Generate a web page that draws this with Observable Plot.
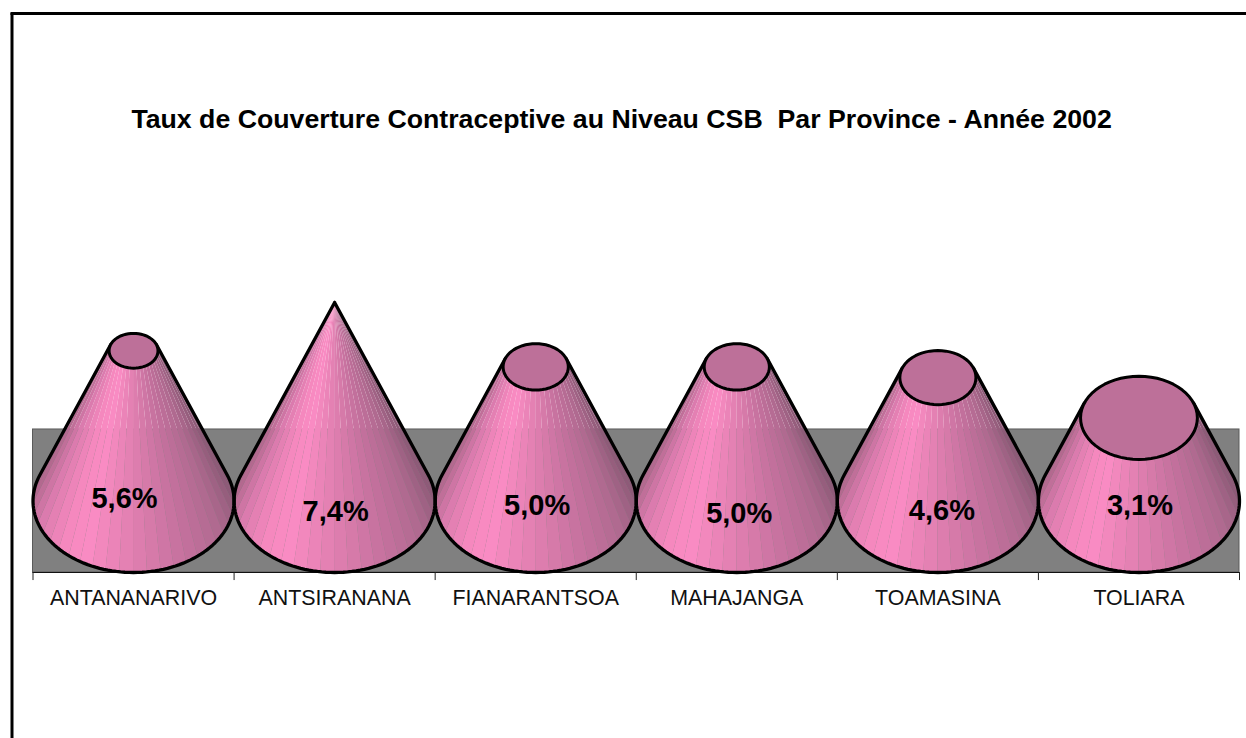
<!DOCTYPE html>
<html>
<head>
<meta charset="utf-8">
<script src="https://cdn.jsdelivr.net/npm/d3@7"></script>
<script src="https://cdn.jsdelivr.net/npm/@observablehq/plot@0.6"></script>
<style>html,body{margin:0;padding:0;background:#fff;overflow:hidden}svg{display:block;overflow:visible}</style>
</head>
<body>
<div id="chart"></div>
<script>
const provinces = ["ANTANANARIVO","ANTSIRANANA","FIANARANTSOA","MAHAJANGA","TOAMASINA","TOLIARA"];
const rates = [5.6,7.4,5.0,5.0,4.6,3.1];
const rateLabels = ["5,6%","7,4%","5,0%","5,0%","4,6%","3,1%"];
const labelX = [0.455,1.505,2.507,3.512,4.52,5.505];
const labelY = [0.093,-0.39,-0.168,-0.466,-0.354,-0.168];
const titleText = "Taux de Couverture Contraceptive au Niveau CSB \u00A0Par Province - Année 2002";

const FONT = "'Liberation Sans', Arial, sans-serif";
const vMax = 7.4, baseRy = 2.666, wallTop = 2.666, n = provinces.length;
const unitsPerPx = (vMax+baseRy)/270;
const frameBottom = -baseRy - 166*unitsPerPx, frameTop = vMax + 289*unitsPerPx, frameLeft = -21/201.08;
const shadeAngle = [-25,0,30,60,90,120,135,160,180,205];
const shadeColor = ["#85566f","#8e5a78","#b06a90","#c6729f","#e07fb0","#fb8cc4","#f488bd","#d87aac","#b4698f","#a8668a"];
const shade = d3.scaleLinear().domain(shadeAngle).range(shadeColor);

const toRad = Math.PI/180;
// silhouette tangent angle for a cone whose apex sits at vMax
const tangent = Math.asin(baseRy/vMax)/toRad;
const startDeg = -tangent, endDeg = 180+tangent, facetCount = 28;

function point(i, v, deg){
  const f = 1 - v/vMax;
  return {x: i+0.5 + 0.5*f*Math.cos(deg*toRad), y: v - baseRy*f*Math.sin(deg*toRad)};
}

const facets = [], outline = [], caps = [];
rates.forEach((v,i)=>{
  const step = (endDeg-startDeg)/facetCount;
  for(let k=0;k<facetCount;k++){
    const a=startDeg+k*step, b=a+step, col=shade((a+b)/2), id=i+"-"+k;
    for(const d of [a,b]){
      const lo=point(i,0,d), hi=point(i,v,d);
      facets.push({id,col,x1:lo.x,y1:lo.y,x2:hi.x,y2:hi.y});
    }
  }
  // outline: down the right side, round the base, up the left side
  outline.push({id:i,...point(i,v,startDeg)});
  for(let d=startDeg;d<=endDeg+1e-6;d+=(endDeg-startDeg)/90) outline.push({id:i,...point(i,0,d)});
  outline.push({id:i,...point(i,v,endDeg)});
  if(v<vMax) for(let d=0;d<=360;d+=6) caps.push({id:i,...point(i,v,d)});
});

const tickPos = d3.range(n+1);
const plot = Plot.plot({
  width:1246, height:738,
  marginLeft:11.5, marginTop:13, marginRight:0, marginBottom:166,
  style:{fontFamily:FONT, background:"#fff", overflow:"visible"},
  x:{domain:[0,n], range:[32.5,1239], axis:null},
  y:{domain:[-baseRy,vMax], range:[572,302], axis:null},
  color:{type:"identity"},
  marks:[
    Plot.frame({anchor:"top", stroke:"#000", strokeWidth:3}),
    Plot.ruleX([frameLeft],{y1:frameBottom,y2:frameTop,stroke:"#000",strokeWidth:3}),
    Plot.rect([0],{x1:()=>0,x2:()=>n,y1:()=>-baseRy,y2:()=>wallTop,fill:"#808080",stroke:"#5a5a5a",strokeWidth:1}),
    Plot.ruleY([-baseRy],{x1:0,x2:n,stroke:"#111",strokeWidth:1}),
    Plot.ruleX(tickPos,{y1:-baseRy,y2:-baseRy-0.3,stroke:"#222",strokeWidth:1}),
    Plot.area(facets,{x1:"x1",y1:"y1",x2:"x2",y2:"y2",z:"id",fill:"col"}),
    Plot.line(outline,{x:"x",y:"y",z:"id",stroke:"#000",strokeWidth:3.3,strokeLinejoin:"round"}),
    Plot.line(caps,{x:"x",y:"y",z:"id",fill:"#bd7099",stroke:"#000",strokeWidth:3}),
    Plot.text(rateLabels,{x:(d,i)=>labelX[i],y:(d,i)=>labelY[i],text:d=>d,fontSize:29,fontWeight:"bold",fill:"#000"}),
    Plot.axisX({ticks:provinces.map((d,i)=>i+0.5),tickFormat:x=>provinces[Math.floor(x)],tickSize:0,tickPadding:17,label:null,fontSize:21.4,fill:"#111"}),
    Plot.text([titleText],{x:()=>2.927,frameAnchor:"top",lineAnchor:"middle",dy:106,text:d=>d,fontSize:26.7,fontWeight:"bold",fill:"#000"})
  ]
});
document.getElementById("chart").appendChild(plot);
</script>
</body>
</html>
